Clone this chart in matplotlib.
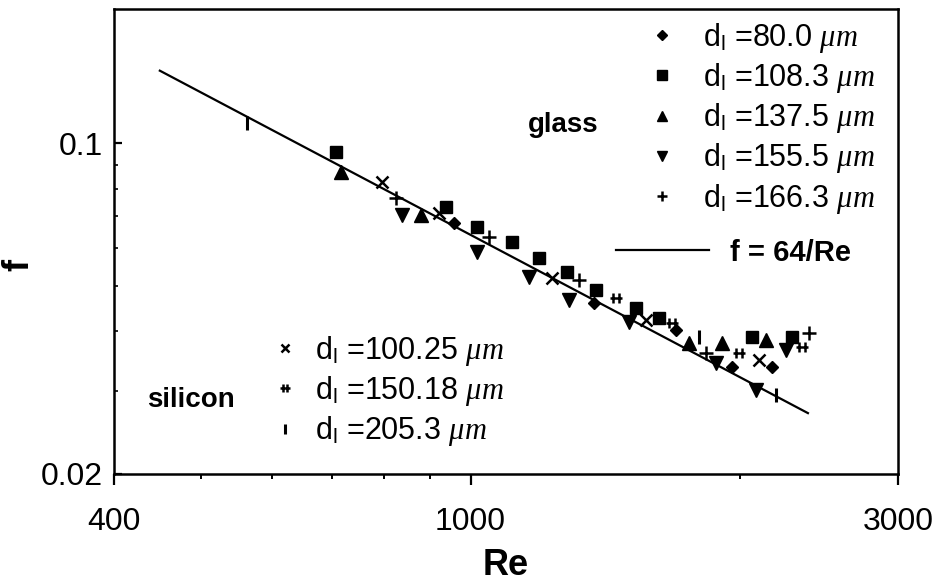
import matplotlib
matplotlib.use("Agg")
import matplotlib.pyplot as plt
import numpy as np
from matplotlib.path import Path
from matplotlib.ticker import FixedLocator, NullFormatter, FixedFormatter

plt.rcParams['font.family'] = ['Liberation Sans', 'DejaVu Sans']
plt.rcParams['mathtext.fontset'] = 'custom'
plt.rcParams['mathtext.rm'] = 'Liberation Sans'
plt.rcParams['mathtext.it'] = 'Liberation Serif:italic'
plt.rcParams['mathtext.bf'] = 'Liberation Sans:bold'

# ---- glass microtubes ----
re_g80 = [958, 1374, 1696, 1958, 2170]
f_g80 = [0.0678, 0.0460, 0.0403, 0.0337, 0.0337]

re_g108 = [708, 939, 1017, 1113, 1192, 1281, 1381, 1530, 1623, 2061, 2284]
f_g108 = [0.0957, 0.0733, 0.0665, 0.0618, 0.0572, 0.0534, 0.0489, 0.0448, 0.0427, 0.0389, 0.0389]

re_g137 = [717, 880, 1753, 1909, 2137]
f_g137 = [0.0869, 0.0705, 0.0378, 0.0378, 0.0384]

re_g155 = [839, 1017, 1162, 1288, 1503, 1879, 2082, 2249]
f_g155 = [0.0705, 0.0589, 0.0521, 0.0466, 0.0419, 0.0343, 0.0301, 0.0366]

re_g166 = [826, 1049, 1321, 1831, 2387]
f_g166 = [0.0765, 0.0633, 0.0514, 0.0360, 0.0397]

# ---- silicon microtubes ----
re_s100 = [796, 922, 1233, 1570, 2099]
f_s100 = [0.0827, 0.0712, 0.0519, 0.0423, 0.0348]

re_s150 = [1454, 1678, 1994, 2344]
f_s150 = [0.0471, 0.0417, 0.0360, 0.0371]

re_s205 = [563, 1799, 2192]
f_s205 = [0.110, 0.0389, 0.0294]

# ---- laminar theory f = 64/Re ----
re_theory = np.array([450.0, 2380.0])
f_theory = 64.0 / re_theory

glass_labels = ["80.0", "108.3", "137.5", "155.5", "166.3"]
silicon_labels = ["100.25", "150.18", "205.3"]

x_major = [400, 1000, 3000]
x_minor = [500, 600, 700, 800, 900, 2000]
y_major = [0.02, 0.1]
y_minor = [0.03, 0.04, 0.05, 0.06, 0.07, 0.08, 0.09]

# double-plus marker for the 150.18 um silicon tube
dplus = Path([(-0.35, -0.7), (-0.35, 0.7), (0.35, -0.7), (0.35, 0.7), (-0.8, 0.0), (0.8, 0.0)],
             [Path.MOVETO, Path.LINETO, Path.MOVETO, Path.LINETO, Path.MOVETO, Path.LINETO])

fig = plt.figure(figsize=(9.36, 5.83), dpi=100)
ax = fig.add_axes([0.1218, 0.1870, 0.8376, 0.7976])

k = dict(color='black', linestyle='none')
ax.plot(re_theory, f_theory, color='black', lw=1.6, zorder=2)
h1, = ax.plot(re_g80, f_g80, marker='D', ms=6.5, **k)
h2, = ax.plot(re_g108, f_g108, marker='s', ms=9, **k)
h3, = ax.plot(re_g137, f_g137, marker='^', ms=10, **k)
h4, = ax.plot(re_g155, f_g155, marker='v', ms=10, **k)
h5, = ax.plot(re_g166, f_g166, marker='+', ms=10, mew=1.8, **k)
s1, = ax.plot(re_s100, f_s100, marker='x', ms=8, mew=1.8, **k)
s2, = ax.plot(re_s150, f_s150, marker=dplus, ms=9, mew=1.8, **k)
s3, = ax.plot(re_s205, f_s205, marker='|', ms=10, mew=2.2, **k)

ax.set_xscale('log')
ax.set_yscale('log')
ax.set_xlim(400, 3000)
ax.set_ylim(0.02, 0.192)

ax.xaxis.set_major_locator(FixedLocator(x_major))
ax.xaxis.set_major_formatter(FixedFormatter([str(v) for v in x_major]))
ax.xaxis.set_minor_locator(FixedLocator(x_minor))
ax.xaxis.set_minor_formatter(NullFormatter())
ax.yaxis.set_major_locator(FixedLocator(y_major))
ax.yaxis.set_major_formatter(FixedFormatter([str(v) for v in y_major]))
ax.yaxis.set_minor_locator(FixedLocator(y_minor))
ax.yaxis.set_minor_formatter(NullFormatter())

ax.tick_params(axis='x', which='major', direction='out', length=8, width=1.6, pad=16)
ax.tick_params(axis='x', which='minor', direction='out', length=3.5, width=1.4)
ax.tick_params(axis='y', which='major', direction='in', length=6, width=1.6, pad=8)
ax.tick_params(axis='y', which='minor', direction='in', length=3, width=1.2)
for lab in ax.get_xticklabels() + ax.get_yticklabels():
    lab.set_fontsize(23)

for sp in ax.spines.values():
    sp.set_linewidth(1.8)

ax.set_xlabel('Re', fontsize=26, fontweight='bold', labelpad=8)
ax.set_ylabel('f', fontsize=26, fontweight='bold')
ax.yaxis.set_label_coords(-0.099, 0.45)

lab_fmt = lambda d: r'd$_\mathrm{l}$ =' + d + r' $\mathit{\mu m}$'

leg1 = ax.legend([h1, h2, h3, h4, h5], [lab_fmt(d) for d in glass_labels],
                 loc='upper left', bbox_to_anchor=(0.680, 0.974), frameon=False,
                 fontsize=22, handlelength=1.0, handletextpad=0.84, labelspacing=0.2,
                 borderpad=0.0, borderaxespad=0.0, markerscale=0.75)
ax.add_artist(leg1)

leg2 = ax.legend([ax.lines[0]], ['f = 64/Re'], loc='upper left',
                 bbox_to_anchor=(0.64, 0.506), frameon=False,
                 prop={'size': 21, 'weight': 'bold'}, handlelength=3.2, handletextpad=0.7,
                 borderpad=0.0, borderaxespad=0.0)
ax.add_artist(leg2)

leg3 = ax.legend([s1, s2, s3], [lab_fmt(d) for d in silicon_labels],
                 loc='upper left', bbox_to_anchor=(0.199, 0.301), frameon=False,
                 fontsize=22, handlelength=1.0, handletextpad=0.48, labelspacing=0.2,
                 borderpad=0.0, borderaxespad=0.0, markerscale=0.75)

ax.text(0.573, 0.75, 'glass', transform=ax.transAxes, ha='center', va='center',
        fontsize=20, fontweight='bold')
ax.text(0.098, 0.16, 'silicon', transform=ax.transAxes, ha='center', va='center',
        fontsize=20, fontweight='bold')

fig.savefig('out.png', dpi=100)
